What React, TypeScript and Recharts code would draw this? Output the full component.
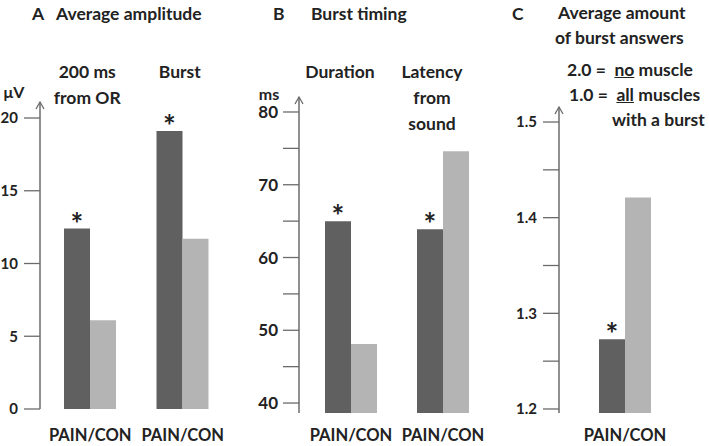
import React from "react";
import { BarChart, Bar, XAxis, YAxis, LabelList } from "recharts";

// A: average amplitude (µV)
const ampCategories = ["200 ms\nfrom OR", "Burst"];
const ampPain = [12.4, 19.1];
const ampCon = [6.1, 11.7];
const ampSig = [true, true];
const ampTicks = [0, 5, 10, 15, 20];

// B: burst timing (ms)
const timingCategories = ["Duration", "Latency\nfrom\nsound"];
const timingPain = [65, 63.9];
const timingCon = [48.1, 74.6];
const timingSig = [true, true];
const timingTicks = [40, 45, 50, 55, 60, 65, 70, 75, 80];
const timingLabeled = [40, 50, 60, 70, 80];

// C: average amount of burst answers
const burstCategories = [""];
const burstPain = [1.273];
const burstCon = [1.421];
const burstSig = [true];
const burstTicks = [1.2, 1.25, 1.3, 1.35, 1.4, 1.45, 1.5];
const burstLabeled = [1.2, 1.3, 1.4, 1.5];

const DARK = "#606060";
const LIGHT = "#b4b4b4";
const AXIS = "#6b6b6b";
const FONT = "Lato, 'Open Sans', sans-serif";

const near = (list: number[], v: number) => list.some((t) => Math.abs(t - v) < 1e-6);

function AxisArrow({ viewBox, unit, unitDx, unitDy }: any) {
  if (!viewBox) return null;
  const ax = viewBox.x + viewBox.width;
  const y = viewBox.y;
  return (
    <g>
      <path d={`M${ax - 4},${y + 7} L${ax},${y} L${ax + 4},${y + 7}`} stroke={AXIS} strokeWidth={1.3} fill="none" />
      {unit ? (
        <text x={ax + unitDx} y={y + unitDy} textAnchor="middle" fontSize={16} fontWeight={700} fill="#222" fontFamily={FONT}>
          {unit}
        </text>
      ) : null}
    </g>
  );
}

function Asterisk({ x, y, width, value }: any) {
  if (!value) return null;
  return (
    <text x={x + width / 2} y={y + 6} textAnchor="middle" fontSize={30} fontWeight={700} fill="#222" fontFamily={FONT}>
      *
    </text>
  );
}

interface PanelProps {
  left: number;
  width: number;
  top: number;
  yWidth: number;
  xHeight: number;
  padLeft: number;
  padRight: number;
  domain: [number, number];
  ticks: number[];
  labeled: number[];
  digits: number;
  tickFont: number;
  tickMargin: number;
  categories: string[];
  pain: number[];
  con: number[];
  sig: boolean[];
  unit?: string;
  unitDx?: number;
  unitDy?: number;
  headingDx: number;
}

function Panel(p: PanelProps) {
  const data = p.categories.map((c, i) => ({ name: c, pain: p.pain[i], con: p.con[i], sig: p.sig[i] }));

  const yTick = ({ x, y, payload }: any) =>
    near(p.labeled, payload.value) ? (
      <text x={x} y={y} dy="0.36em" textAnchor="end" fontSize={p.tickFont} fontWeight={700} fill="#222" fontFamily={FONT}>
        {payload.value.toFixed(p.digits)}
      </text>
    ) : (
      <g />
    );

  const xTick = ({ x, payload }: any) => {
    const lines = String(payload.value).split("\n").filter((l) => l.length);
    return (
      <g fontFamily={FONT} fontWeight={700} fill="#222">
        <text x={x} y={441} textAnchor="middle" fontSize={16.5}>
          PAIN/CON
        </text>
        {lines.map((l, i) => (
          <text key={i} x={x + p.headingDx} y={78 + i * 26} textAnchor="middle" fontSize={17.5}>
            {l}
          </text>
        ))}
      </g>
    );
  };

  return (
    <div style={{ position: "absolute", left: p.left, top: 0 }}>
      <BarChart
        width={p.width}
        height={446}
        data={data}
        barGap={0}
        barSize={26}
        margin={{ top: p.top, right: 0, bottom: 0, left: 0 }}
      >
        <XAxis
          dataKey="name"
          height={p.xHeight}
          axisLine={false}
          tickLine={false}
          tickSize={0}
          tickMargin={0}
          interval={0}
          padding={{ left: p.padLeft, right: p.padRight }}
          tick={xTick}
        />
        <YAxis
          type="number"
          width={p.yWidth}
          domain={p.domain}
          ticks={p.ticks}
          allowDataOverflow
          interval={0}
          tickSize={16}
          tickMargin={p.tickMargin}
          axisLine={{ stroke: AXIS, strokeWidth: 1.5 }}
          tickLine={{ stroke: AXIS, strokeWidth: 1.3 }}
          tick={yTick}
          label={<AxisArrow unit={p.unit} unitDx={p.unitDx} unitDy={p.unitDy} />}
        />
        <Bar dataKey="pain" fill={DARK} isAnimationActive={false}>
          <LabelList dataKey="sig" content={Asterisk} />
        </Bar>
        <Bar dataKey="con" fill={LIGHT} isAnimationActive={false} />
      </BarChart>
    </div>
  );
}

const titleStyle: React.CSSProperties = {
  position: "absolute",
  fontFamily: FONT,
  fontWeight: 700,
  fontSize: 17.5,
  lineHeight: "18px",
  color: "#222",
  whiteSpace: "nowrap",
};

export default function App() {
  return (
    <div style={{ position: "absolute", left: 0, top: 0, width: 709, height: 446, background: "#fff", overflow: "hidden" }}>
      <Panel
        left={0}
        width={232}
        top={102}
        yWidth={40}
        xHeight={37}
        padLeft={4}
        padRight={3}
        domain={[0, 21.1]}
        ticks={ampTicks}
        labeled={ampTicks}
        digits={0}
        tickFont={15}
        tickMargin={6}
        categories={ampCategories}
        pain={ampPain}
        con={ampCon}
        sig={ampSig}
        unit="μV"
        unitDx={-26}
        unitDy={-4}
        headingDx={-3}
      />
      <Panel
        left={230}
        width={262}
        top={97}
        yWidth={69}
        xHeight={33}
        padLeft={6}
        padRight={3}
        domain={[38.63, 82.06]}
        ticks={timingTicks}
        labeled={timingLabeled}
        digits={0}
        tickFont={17}
        tickMargin={5}
        categories={timingCategories}
        pain={timingPain}
        con={timingCon}
        sig={timingSig}
        unit="ms"
        unitDx={-30}
        unitDy={3}
        headingDx={-11}
      />
      <Panel
        left={475}
        width={234}
        top={107}
        yWidth={84}
        xHeight={33}
        padLeft={0}
        padRight={18}
        domain={[1.1958, 1.5157]}
        ticks={burstTicks}
        labeled={burstLabeled}
        digits={1}
        tickFont={15}
        tickMargin={6}
        categories={burstCategories}
        pain={burstPain}
        con={burstCon}
        sig={burstSig}
        headingDx={0}
      />

      <div style={{ ...titleStyle, left: 32, top: 5 }}>A</div>
      <div style={{ ...titleStyle, left: 56, top: 5 }}>Average amplitude</div>
      <div style={{ ...titleStyle, left: 273, top: 5 }}>B</div>
      <div style={{ ...titleStyle, left: 311, top: 5 }}>Burst timing</div>
      <div style={{ ...titleStyle, left: 512, top: 5 }}>C</div>
      <div style={{ ...titleStyle, left: 558, top: 4 }}>Average amount</div>
      <div style={{ ...titleStyle, left: 555, top: 29 }}>of burst answers</div>
      <div style={{ ...titleStyle, left: 567, top: 61 }}>
        2.0 =&nbsp;&nbsp;<span style={{ textDecoration: "underline" }}>no</span> muscle
      </div>
      <div style={{ ...titleStyle, left: 569, top: 86 }}>
        1.0 =&nbsp;&nbsp;<span style={{ textDecoration: "underline" }}>all</span> muscles
      </div>
      <div style={{ ...titleStyle, left: 612, top: 111 }}>with a burst</div>
    </div>
  );
}
